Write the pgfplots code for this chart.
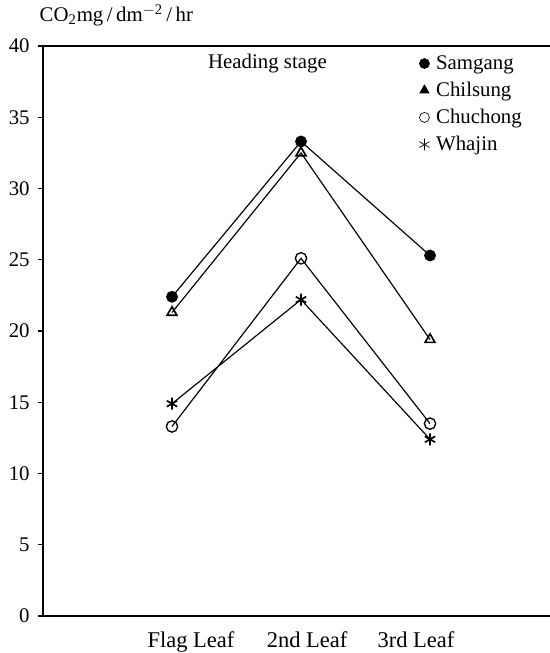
\documentclass[border=0pt]{standalone}
\usepackage{pgfplots}
\pgfplotsset{compat=1.18}
\usepackage{fontspec}
\setmainfont{Liberation Serif}
\begin{document}
\begin{tikzpicture}[font=\fontsize{12.5}{14}\selectfont]
\path[use as bounding box] (-25.8pt,-22.2pt) rectangle (304.2pt,369.6pt);
\begin{axis}[
  at={(0,0)}, anchor=origin,
  scale only axis, width=304.2pt, height=342pt,
  xmin=0, xmax=3.93, ymin=0, ymax=40,
  axis x line*=bottom, axis y line*=left,
  axis line style={line width=1.2pt, -},
  xtick={1.147,2.047,2.891}, xticklabels={Flag Leaf, 2nd Leaf, 3rd Leaf},
  x tick style={draw=none},
  xticklabel style={yshift=-3pt, font=\fontsize{13.5}{15}\selectfont},
  ytick={0,5,...,40},
  tick align=outside, major tick length=3pt,
  y tick style={line width=0.8pt, black},
  yticklabel style={xshift=-1.5pt},
  /pgf/number format/assume math mode=true,
  clip=false,
  legend style={at={(axis cs:2.915,39.6)}, anchor=north west, draw=none, fill=none,
    cells={anchor=west}, row sep=2.1pt, inner sep=0pt,
    font=\fontsize{12.5}{14}\selectfont},
  legend cell align=left,
]
\addlegendimage{only marks, mark=*, mark size=3pt, black}
\addlegendentry{\hspace{2pt}Samgang}
\addlegendimage{only marks, mark=triangle*, mark size=3.2pt, black}
\addlegendentry{\hspace{2pt}Chilsung}
\addlegendimage{only marks, mark=o, mark size=3pt, black}
\addlegendentry{\hspace{2pt}Chuchong}
\addlegendimage{only marks, mark=asterisk, mark size=3.5pt, black}
\addlegendentry{\hspace{2pt}Whajin}

\addplot[black, line width=0.7pt, mark=*, mark size=3.2pt, forget plot]
  coordinates {(1,22.4) (2,33.3) (3,25.3)};
\addplot[black, line width=0.7pt, mark=triangle, mark size=3.4pt, mark options={line width=1pt}, forget plot]
  coordinates {(1,21.3) (2,32.5) (3,19.4)};
\addplot[black, line width=0.7pt, mark=o, mark size=3.4pt, mark options={fill=white, line width=0.8pt}, forget plot]
  coordinates {(1,13.3) (2,25.1) (3,13.5)};
\addplot[black, line width=0.7pt, mark=asterisk, mark size=3.6pt, mark options={line width=1pt}, forget plot]
  coordinates {(1,14.9) (2,22.2) (3,12.4)};

\draw[line width=1.2pt] (rel axis cs:0,1) -- (rel axis cs:1,1);
\node at (axis cs:1.74,38.75) {Heading stage};
\node[anchor=base west, xshift=-5.5pt, yshift=14.5pt] at (rel axis cs:0,1)
  {CO\textsubscript{2}mg\,/\,dm\textsuperscript{$-$2}\,/\,hr};
\end{axis}
\end{tikzpicture}
\end{document}
